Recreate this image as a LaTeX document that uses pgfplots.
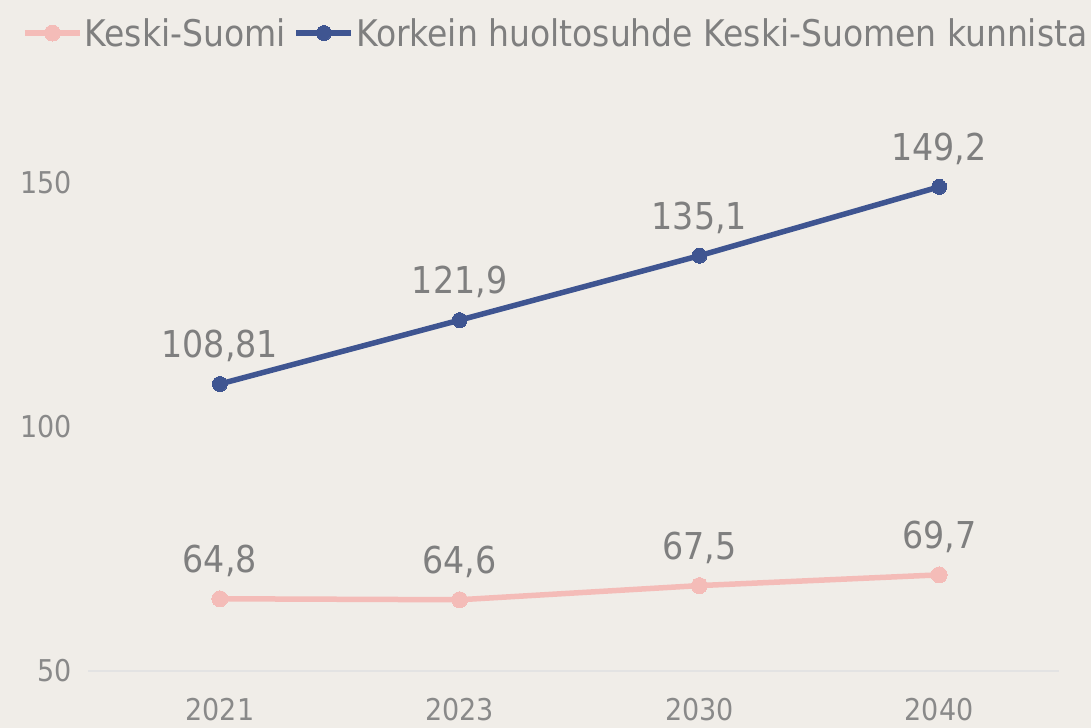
\documentclass[border=0pt]{standalone}
\usepackage{fontspec}
\setmainfont{DejaVu Sans Condensed}
\usepackage{pgfplots}
\pgfplotsset{compat=1.18}
\definecolor{bg}{HTML}{F0EDE8}
\definecolor{blueline}{HTML}{3F5591}
\definecolor{pinkline}{HTML}{F4BCB8}
\definecolor{txt}{HTML}{7F7F7F}
\definecolor{tickc}{HTML}{898989}
\definecolor{gridc}{HTML}{E3E3E3}
\begin{document}
\begin{tikzpicture}
\path[use as bounding box, fill=bg] (0,0) rectangle (1091bp,728bp);
\begin{axis}[
  at={(88bp,57bp)}, anchor=south west,
  scale only axis, width=971bp, height=512.4bp,
  xmin=-0.55, xmax=3.5, ymin=50, ymax=155,
  clip=false,
  axis x line*=bottom, axis y line*=left,
  x axis line style={draw=gridc, line width=1.5bp, -},
  y axis line style={draw=none},
  major tick length=0pt,
  xtick={0,1,2,3}, xticklabels={2021,2023,2030,2040},
  ytick={50,100,150},
  /pgf/number format/assume math mode=true,
  tick label style={font=\fontsize{30bp}{36bp}\selectfont, text=tickc},
  xticklabel style={anchor=base, yshift=-49bp},
  yticklabel style={anchor=east, inner sep=0pt, xshift=-16bp},
  legend style={at={(-0.0680,1.245)}, anchor=west, draw=none, fill=none,
    font=\fontsize{36.7bp}{44bp}\selectfont, text=txt, inner sep=0pt,
    legend columns=2, /tikz/every even column/.append style={column sep=6bp},
    nodes={inner sep=2bp}},
  legend image code/.code={
    \draw[#1,mark repeat=2,mark phase=2] plot coordinates {(0bp,0bp) (27.5bp,0bp) (55bp,0bp)};},
  nodes near coords={\pgfplotspointmeta},
  point meta=explicit symbolic,
  nodes near coords style={font=\fontsize{37bp}{44bp}\selectfont, text=txt, anchor=center, yshift=38bp},
]
\addplot[color=pinkline, line width=5.5bp, mark=*, mark size=8bp, mark options={fill=pinkline, draw=pinkline, line width=0pt}]
  table[meta=label] {
x y label
0 64.8 {64,8}
1 64.6 {64,6}
2 67.5 {67,5}
3 69.7 {69,7}
};
\addlegendentry{Keski-Suomi}
\addplot[color=blueline, line width=5.5bp, mark=*, mark size=7.5bp, mark options={fill=blueline, draw=blueline, line width=0pt}]
  table[meta=label] {
x y label
0 108.81 {108,81}
1 121.9 {121,9}
2 135.1 {135,1}
3 149.2 {149,2}
};
\addlegendentry{Korkein huoltosuhde Keski-Suomen kunnista}
\end{axis}
\end{tikzpicture}
\end{document}
